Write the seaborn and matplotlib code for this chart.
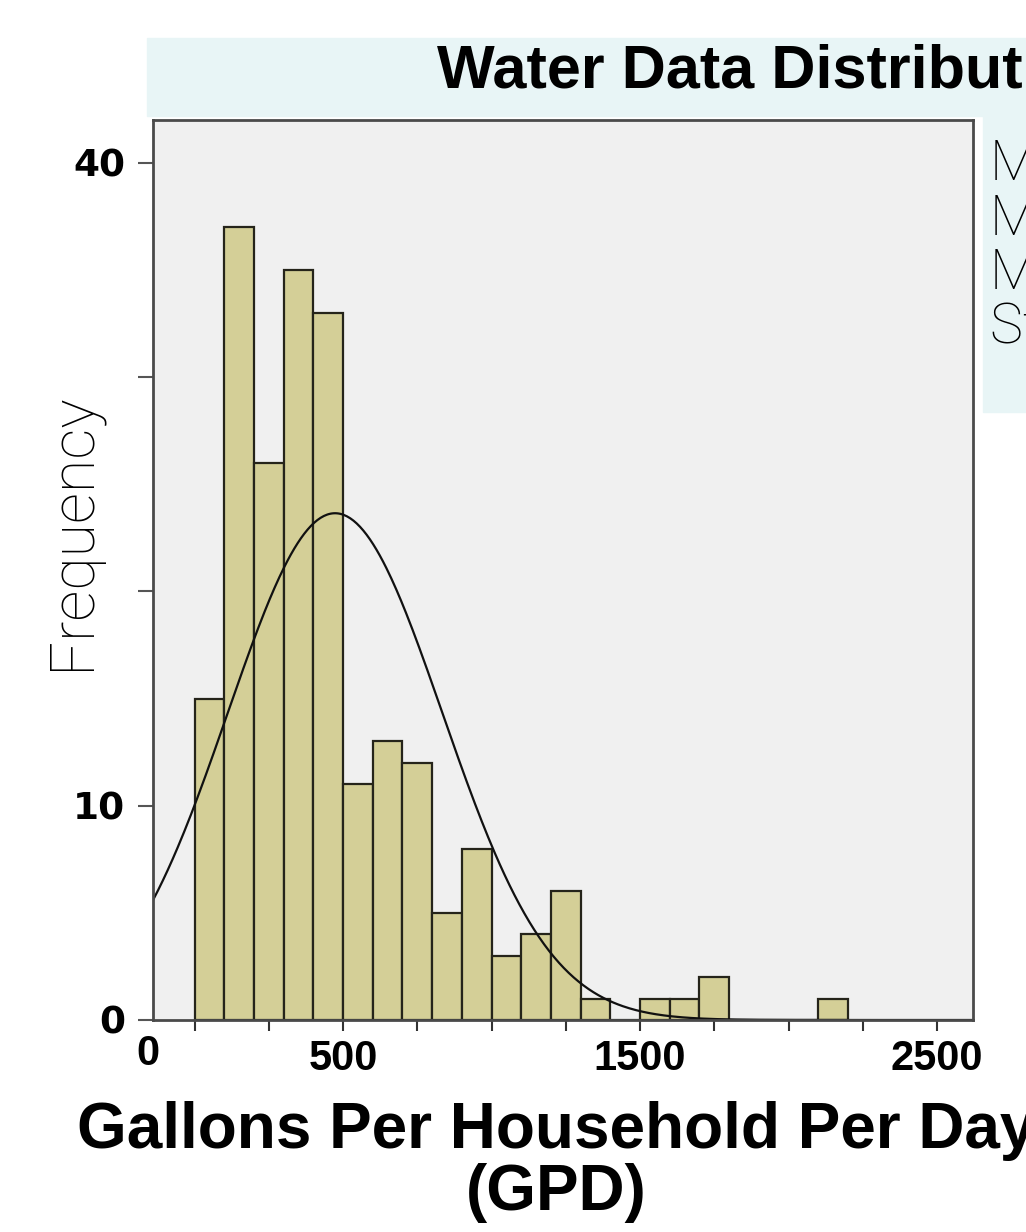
import numpy as np
import pandas as pd
import seaborn as sns
import matplotlib.pyplot as plt
from matplotlib.patches import Rectangle

# binned frequencies of gallons per household per day (bin width 100, starting at 0)
bin_start = 0
bin_width = 100
counts = [15, 37, 26, 35, 33, 11, 13, 12, 5, 8, 3, 4, 6, 1, 0, 1, 1, 2, 0, 0, 0, 1]

# fitted normal curve
mean_gpd = 473
sd_gpd = 361

x_ticks = [0, 250, 500, 750, 1000, 1250, 1500, 1750, 2000, 2250, 2500]
x_ticklabels = ["", "", "500", "", "", "", "1500", "", "", "", "2500"]
y_ticks = [0, 10, 20, 30, 40]
y_ticklabels = ["0", "10", "", "", "40"]
stats_lines = ["Mean = 473", "Median = 380", "Mode = 150", "Std. Dev. = 361"]

title = "Water Data Distribution"
x_label = "Gallons Per Household Per Day\n(GPD)"
y_label = "Frequency"

edges = [bin_start + bin_width * i for i in range(len(counts) + 1)]
centers = [e + bin_width / 2 for e in edges[:-1]]
df = pd.DataFrame({"gpd": centers, "n": counts})

sns.set_theme(style="white")
plt.rcParams["text.color"] = "black"
arial = ["Liberation Sans", "DejaVu Sans"]
thin = ["Roboto", "DejaVu Sans"]

fig = plt.figure(figsize=(10.26, 12.32), dpi=100)
fig.patch.set_facecolor("white")

# light cyan panels behind title and stats box
cyan = "#E8F5F6"
fig.patches.append(Rectangle((147 / 1026, 1 - 116 / 1232), 1, 78 / 1232,
                             transform=fig.transFigure, color=cyan, zorder=0))
fig.patches.append(Rectangle((983 / 1026, 1 - 412 / 1232), 1, 296 / 1232,
                             transform=fig.transFigure, color=cyan, zorder=0))

ax = fig.add_axes([153 / 1026, 1 - 1020 / 1232, 820 / 1026, 900 / 1232])
ax.set_facecolor("#F0F0F0")

sns.histplot(data=df, x="gpd", weights="n", bins=edges, ax=ax,
             color="#D4CF97", alpha=1, edgecolor="#25241A", linewidth=1.6)

n_total = sum(counts)
xs = np.linspace(-140, 2621, 500)
ys = n_total * bin_width / (sd_gpd * np.sqrt(2 * np.pi)) * np.exp(-0.5 * ((xs - mean_gpd) / sd_gpd) ** 2)
sns.lineplot(x=xs, y=ys, ax=ax, color="#111111", linewidth=1.6)

ax.set_xlim(-140, 2621)
ax.set_ylim(0, 42)
ax.set_xlabel("")
ax.set_ylabel("")

for s in ax.spines.values():
    s.set_color("#4A4A4A")
    s.set_linewidth(2)

ax.set_xticks(x_ticks)
ax.set_xticklabels(x_ticklabels, fontsize=30, fontweight="bold", family=arial, color="black")
ax.set_yticks(y_ticks)
ax.set_yticklabels(y_ticklabels, fontsize=27, fontweight="bold", family="DejaVu Sans", color="black")
ax.tick_params(axis="x", length=8, width=1.5, color="#333333", pad=6, bottom=True)
ax.tick_params(axis="y", length=11, width=1.5, color="#555555", pad=9, left=True)

# the "0" label sits at the left corner of the axis
ax.text(-0.006, -0.016, "0", transform=ax.transAxes, ha="center", va="top",
        fontsize=30, fontweight="bold", family=arial)

fig.text(437 / 1026, 1 - 72 / 1232, title, ha="left", va="center",
         fontsize=44, fontweight="bold", family=arial)

fig.text(556 / 1026, 1 - 1162 / 1232, x_label, ha="center", va="center",
         fontsize=46, fontweight="bold", family=arial, linespacing=1.05)

fig.text(72 / 1026, 1 - 531 / 1232, y_label, rotation=90, ha="center", va="center",
         fontsize=44, family=thin, fontweight="light")

for i, line in enumerate(stats_lines):
    fig.text(990 / 1026, 1 - (165 + 54 * i) / 1232, line, ha="left", va="center",
             fontsize=40, family=thin, fontweight="light")

fig.savefig("out.png", dpi=100)
